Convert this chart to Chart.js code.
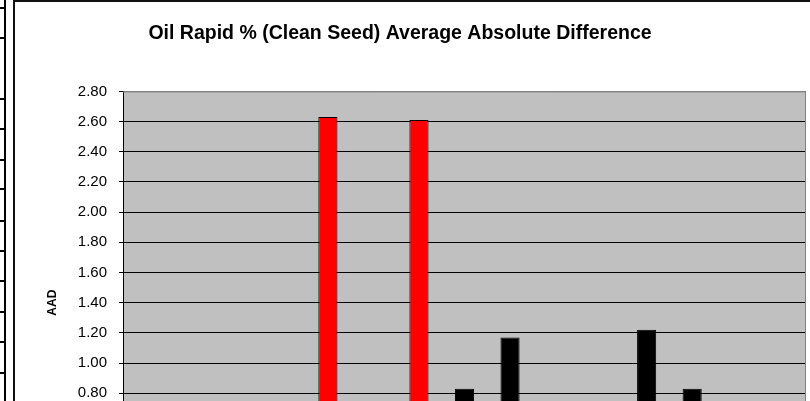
<!DOCTYPE html>
<html>
<head>
<meta charset="utf-8">
<script src="https://cdn.jsdelivr.net/npm/chart.js@4/dist/chart.umd.min.js"></script>
<style>
html,body{margin:0;padding:0;width:810px;height:401px;overflow:hidden;background:#fff;}
#wrap{position:absolute;left:-6px;top:0;width:816px;height:554px;}
.line{position:absolute;background:#111;z-index:5;}
</style>
</head>
<body>
<div id="wrap"><canvas id="c"></canvas></div>
<div class="line" style="left:13px;top:0;width:2px;height:401px;"></div>
<div class="line" style="left:13px;top:0;width:797px;height:2px;"></div>
<div class="line" style="left:4px;top:0;width:2px;height:401px;background:#000;"></div>
<div id="strip"></div>
<script>
// ---- data ----
const categories = ["1","2","3","4","5","6","7","8","9","10","11","12","13","14","15"];
const aadValues  = [0.45, 0.38, 0.52, 0.41, 2.63, 0.55, 2.61, 0.83, 1.17, 0.47, 0.36, 1.22, 0.83, 0.50, 0.42];
const yTicks     = [0.00,0.20,0.40,0.60,0.80,1.00,1.20,1.40,1.60,1.80,2.00,2.20,2.40,2.60,2.80];
const titleText  = "Oil Rapid % (Clean Seed) Average Absolute Difference";
const yTitle     = "AAD";
const flagLimit  = 2.0;

// spreadsheet cell borders at far left (decoration)
const stripRows = [8,38,99,129,160,189,221,251,281,312,342,373];
const strip = document.getElementById('strip');
stripRows.forEach(y => {
  const d = document.createElement('div');
  d.className = 'line';
  d.style.cssText = 'left:0;top:'+(y-1)+'px;width:6px;height:2px;background:#000;';
  strip.appendChild(d);
});

const plotBg = {
  id: 'plotBg',
  beforeDraw(chart) {
    const {ctx, chartArea: a} = chart;
    ctx.save();
    ctx.fillStyle = '#C0C0C0';
    ctx.fillRect(a.left, a.top, a.right - a.left, a.bottom - a.top);
    ctx.restore();
  },
  afterDraw(chart) {
    const {ctx, chartArea: a} = chart;
    ctx.save();
    ctx.strokeStyle = '#808080';
    ctx.lineWidth = 1;
    ctx.beginPath();
    ctx.moveTo(a.left, a.top + 0.5);
    ctx.lineTo(a.right - 0.5, a.top + 0.5);
    ctx.lineTo(a.right - 0.5, a.bottom);
    ctx.stroke();
    ctx.restore();
  }
};

Chart.defaults.font.family = '"Liberation Sans", Arial, sans-serif';
Chart.defaults.color = '#000';

new Chart(document.getElementById('c'), {
  type: 'bar',
  data: {
    labels: categories,
    datasets: [{
      data: aadValues,
      backgroundColor: ctx => (ctx.raw > flagLimit ? '#FF0000' : '#000000'),
      borderColor: '#000000',
      borderWidth: 1,
      categoryPercentage: 1.0,
      barPercentage: 0.42
    }]
  },
  options: {
    responsive: true,
    maintainAspectRatio: false,
    animation: false,
    layout: { padding: { left: 0, right: 4, top: 0, bottom: 0 } },
    plugins: {
      legend: { display: false },
      tooltip: { enabled: false },
      title: {
        display: true,
        text: titleText,
        font: { size: 19.5, weight: 'bold' },
        color: '#000',
        padding: { top: 22, bottom: 46 }
      }
    },
    scales: {
      x: {
        grid: { display: false },
        border: { display: false },
        ticks: { font: { size: 15 } },
        afterFit(scale) { scale.height = 40; }
      },
      y: {
        min: 0,
        max: 2.8,
        afterBuildTicks(scale) { scale.ticks = yTicks.map(v => ({ value: v })); },
        ticks: {
          font: { size: 15 },
          padding: 12,
          callback: v => Number(v).toFixed(2)
        },
        grid: {
          color: ctx => (ctx.tick && Math.abs(ctx.tick.value - 2.8) < 1e-6 ? '#808080' : '#000000'),
          tickColor: '#000000',
          tickLength: 4,
          lineWidth: 1
        },
        border: { display: true, color: '#000000', width: 1 },
        title: {
          display: true,
          text: yTitle,
          font: { size: 12, weight: 'bold' },
          color: '#000',
          padding: { top: 51, bottom: 0 }
        },
        afterFit(scale) { scale.width = 129; }
      }
    }
  },
  plugins: [plotBg]
});
</script>
</body>
</html>
